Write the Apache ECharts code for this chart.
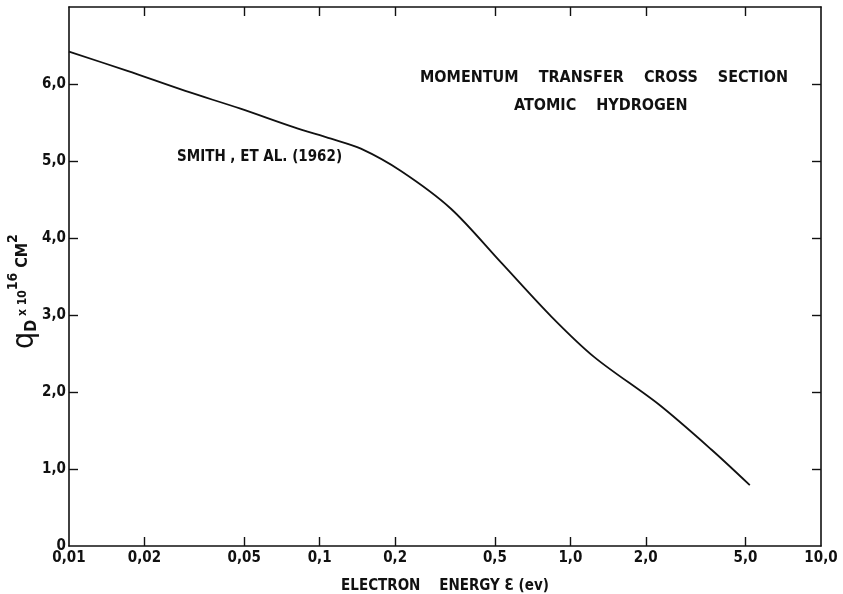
<!DOCTYPE html>
<html>
<head>
<meta charset="utf-8">
<script src="https://cdn.jsdelivr.net/npm/echarts@6/dist/echarts.min.js"></script>
<style>
  html, body { margin: 0; padding: 0; background: #fff; }
  #chart { width: 843px; height: 594px; }
</style>
</head>
<body>
<div id="chart"></div>
<script>
// Electron energy (eV) and momentum transfer cross section q_D (x10^-16 cm^2), Smith et al. (1962)
const energy = [0.01, 0.0171, 0.0291, 0.0483, 0.0787, 0.111, 0.146, 0.211, 0.334, 0.53, 0.84, 1.25, 2.25, 3.66, 5.2];
const crossSection = [6.42, 6.17, 5.91, 5.68, 5.44, 5.29, 5.16, 4.87, 4.38, 3.68, 2.98, 2.45, 1.84, 1.25, 0.79];

const xTickValues = [0.01, 0.02, 0.05, 0.1, 0.2, 0.5, 1, 2, 5, 10];
const xTickLabels = ['0,01', '0,02', '0,05', '0,1', '0,2', '0,5', '1,0', '2,0', '5,0', '10,0'];
const yTickValues = [0, 1, 2, 3, 4, 5, 6];
const yTickLabels = ['0', '1,0', '2,0', '3,0', '4,0', '5,0', '6,0'];

const FONT = 'DejaVu Sans Condensed';
const INK = '#111';

const chart = echarts.init(document.getElementById('chart'), null, { renderer: 'canvas' });

const seriesData = energy.map((e, i) => [e, crossSection[i]]);

const labelStyle = { fontFamily: FONT, fontSize: 15, fontWeight: 'bold', color: INK };
const LH = 34;

chart.setOption({
  backgroundColor: '#fff',
  animation: false,
  grid: { left: 69, right: 22, top: 7, bottom: 48, containLabel: false, outerBoundsMode: 'none' },
  xAxis: [
    {
      type: 'log', logBase: 10, min: 0.01, max: 10, position: 'bottom',
      name: 'ELECTRON    ENERGY Ɛ (ev)', nameLocation: 'middle', nameGap: 33,
      nameTextStyle: { fontFamily: FONT, fontSize: 15, fontWeight: 'bold', color: INK },
      axisLine: { show: true, onZero: false, lineStyle: { color: INK, width: 1.6 } },
      axisTick: { show: true, inside: true, length: 9, customValues: xTickValues.slice(1, -1), lineStyle: { color: INK, width: 1.4 } },
      axisLabel: Object.assign({
        show: true, margin: 5, customValues: xTickValues,
        formatter: v => { const i = xTickValues.findIndex(t => Math.abs(t - v) / t < 1e-6); return i >= 0 ? xTickLabels[i] : ''; }
      }, labelStyle),
      splitLine: { show: false }, minorTick: { show: false }
    },
    {
      type: 'log', logBase: 10, min: 0.01, max: 10, position: 'top',
      axisLine: { show: true, onZero: false, lineStyle: { color: INK, width: 1.6 } },
      axisTick: { show: true, inside: true, length: 9, customValues: xTickValues.slice(1, -1), lineStyle: { color: INK, width: 1.4 } },
      axisLabel: { show: false },
      splitLine: { show: false }
    }
  ],
  yAxis: [
    {
      type: 'value', min: 0, max: 7, interval: 1, position: 'left',
      name: '{q|q}{sub|D}{x| x 10}{sup|16}{cm| CM}{sup2|2}',
      nameLocation: 'middle', nameGap: 29, nameRotate: 90, nameMoveOverlap: false,
      nameTextStyle: {
        fontFamily: FONT, color: INK, padding: [0, 30, 0, 0],
        rich: {
          q: { fontFamily: FONT, fontSize: 30, color: INK, lineHeight: LH, verticalAlign: 'bottom' },
          sub: { fontFamily: FONT, fontSize: 16, fontWeight: 'bold', color: INK, lineHeight: LH, verticalAlign: 'bottom' },
          x: { fontFamily: FONT, fontSize: 12, fontWeight: 'bold', color: INK, lineHeight: LH, verticalAlign: 'middle' },
          sup: { fontFamily: FONT, fontSize: 14, fontWeight: 'bold', color: INK, lineHeight: LH, verticalAlign: 'top' },
          cm: { fontFamily: FONT, fontSize: 16, fontWeight: 'bold', color: INK, lineHeight: LH, verticalAlign: 'middle' },
          sup2: { fontFamily: FONT, fontSize: 14, fontWeight: 'bold', color: INK, lineHeight: LH, verticalAlign: 'top' }
        }
      },
      axisLine: { show: true, lineStyle: { color: INK, width: 1.6 } },
      axisTick: { show: true, inside: true, length: 9, customValues: yTickValues.slice(1), lineStyle: { color: INK, width: 1.4 } },
      axisLabel: Object.assign({
        show: true, margin: 3, customValues: yTickValues,
        formatter: v => { const i = yTickValues.indexOf(v); return i >= 0 ? yTickLabels[i] : ''; }
      }, labelStyle),
      splitLine: { show: false }
    },
    {
      type: 'value', min: 0, max: 7, interval: 1, position: 'right',
      axisLine: { show: true, lineStyle: { color: INK, width: 1.6 } },
      axisTick: { show: true, inside: true, length: 9, customValues: yTickValues.slice(1), lineStyle: { color: INK, width: 1.4 } },
      axisLabel: { show: false },
      splitLine: { show: false }
    }
  ],
  graphic: [
    { type: 'text', left: 420, top: 70, style: { text: 'MOMENTUM    TRANSFER    CROSS    SECTION', fontFamily: FONT, fontSize: 16, fontWeight: 'bold', fill: INK } },
    { type: 'text', left: 514, top: 98, style: { text: 'ATOMIC    HYDROGEN', fontFamily: FONT, fontSize: 16, fontWeight: 'bold', fill: INK } },
    { type: 'text', left: 177, top: 150, style: { text: 'SMITH , ET AL. (1962)', fontFamily: FONT, fontSize: 15, fontWeight: 'bold', fill: INK } }
  ],
  series: [
    {
      type: 'line', xAxisIndex: 0, yAxisIndex: 0,
      data: seriesData, smooth: 0.3, symbol: 'none',
      lineStyle: { color: INK, width: 1.8 }
    }
  ]
});
</script>
</body>
</html>
